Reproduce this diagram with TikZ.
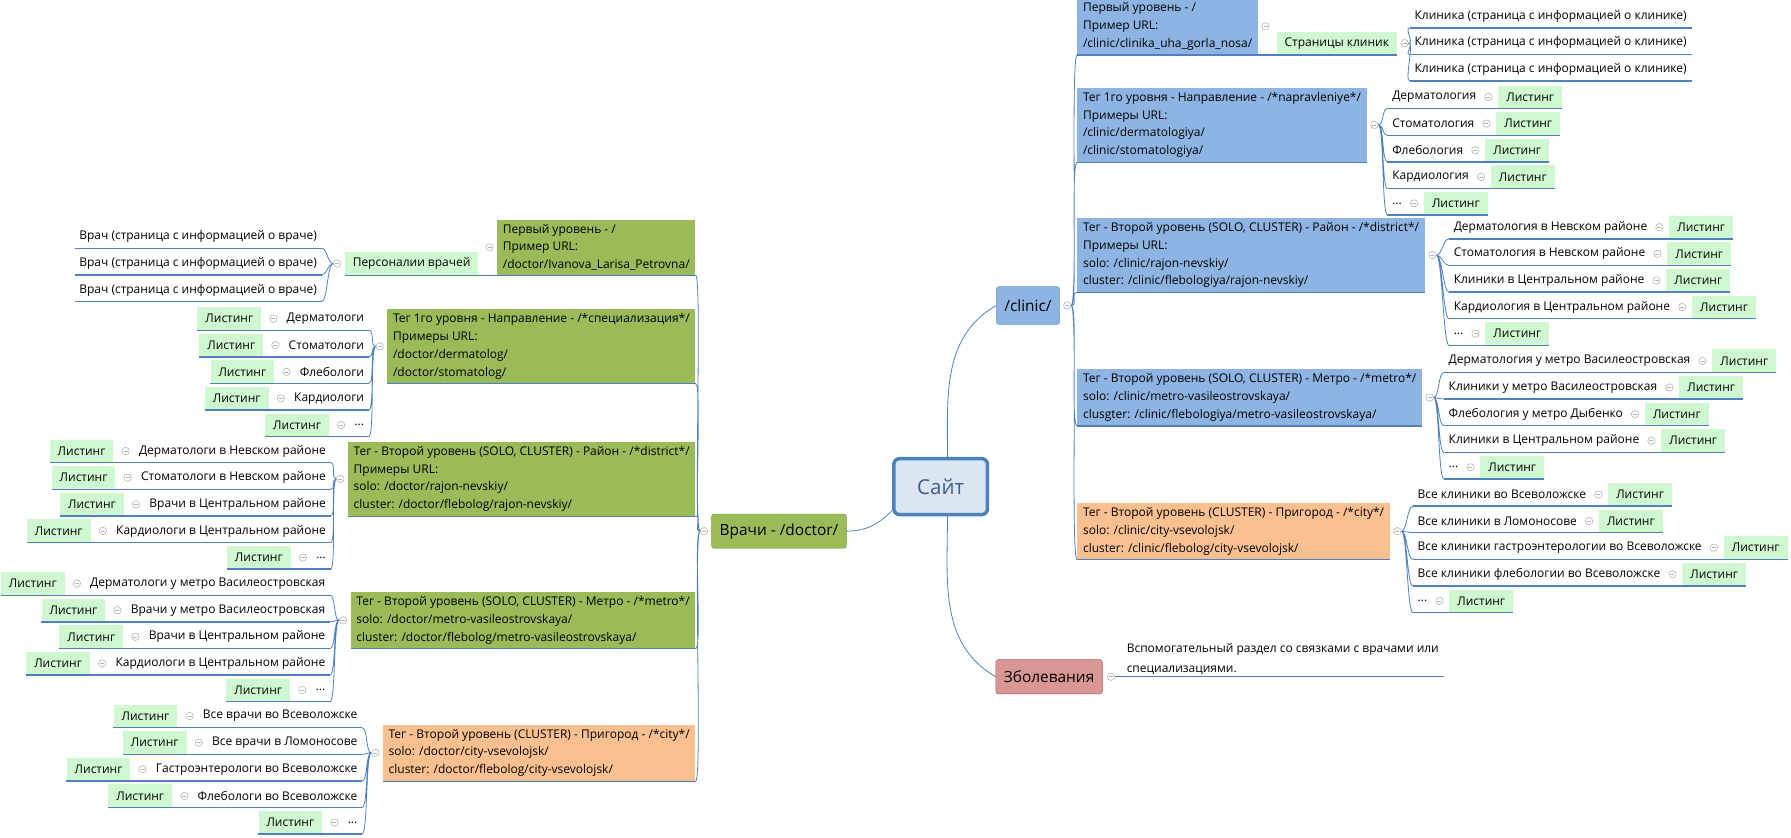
\documentclass[tikz,border=0pt]{standalone}
\usepackage{fontspec}
\setmainfont{Open Sans}
\usetikzlibrary{positioning}

\definecolor{linkblue}{HTML}{4F81BD}
\definecolor{olivefill}{HTML}{9BBB59}
\definecolor{olivedark}{HTML}{7F9C44}
\definecolor{skyfill}{HTML}{8EB4E3}
\definecolor{peachfill}{HTML}{FAC090}
\definecolor{mintfill}{HTML}{D0F8D0}
\definecolor{rosefill}{HTML}{D99694}
\definecolor{rosedark}{HTML}{B65D5A}
\definecolor{sitefill}{HTML}{DCE6F2}
\definecolor{sitetext}{HTML}{3B5E91}

\begin{document}
\begin{tikzpicture}[x=1pt, y=1pt,
	topic/.style={align=left, inner xsep=5pt, inner ysep=4pt, font=\fontsize{10.5}{15.5}\selectfont},
	leftbox/.style={topic, anchor=south east},
	rightbox/.style={topic, anchor=south west},
	item/.style={inner xsep=4pt, inner ysep=0pt, minimum height=20pt, font=\fontsize{10.5}{13}\selectfont},
	listing/.style={item, fill=mintfill, inner xsep=7pt},
	collapse/.style={circle, draw=gray!60, fill=white, line width=0.5pt, inner sep=0pt, minimum size=6.5pt,
		path picture={\draw[gray!60, line width=0.5pt] ([xshift=1.5pt]path picture bounding box.west) -- ([xshift=-1.5pt]path picture bounding box.east);}},
	uline/.style={draw=linkblue, line width=1.2pt},
	conn/.style={draw=linkblue, line width=0.7pt},
	mainbox/.style={rounded corners=2pt, inner xsep=7pt, minimum height=30pt, font=\fontsize{13.5}{16}\selectfont}]

	\useasboundingbox (0,0) rectangle (1568,-733);

	% root and main branches
	\node (site) [draw=linkblue, line width=3pt, fill=sitefill, rounded corners=5pt, minimum width=82pt, minimum height=49pt, text=sitetext, font=\fontsize{18}{22}\selectfont] at (823.5,-426) {Сайт};
	\node (doc) [mainbox, fill=olivefill, draw=olivedark] at (682,-465) {Врачи - /doctor/};
	\node (doc-c) [collapse, left=3pt of doc] {};
	\node (clinic) [mainbox, fill=skyfill, draw=linkblue!80, minimum height=33pt] at (900,-267.5) {/clinic/};
	\node (clinic-c) [collapse, right=3pt of clinic] {};
	\node (ill) [mainbox, fill=rosefill, draw=rosedark] at (918.5,-592.5) {Зболевания};
	\node (ill-c) [collapse, right=4pt of ill] {};
	\node (ill-t) [item, inner ysep=2pt, align=left, anchor=south west, font=\fontsize{10.5}{17}\selectfont] at ([xshift=6pt]ill-c.east) {Вспомогательный раздел со связками с врачами или\\специализациями.};

	\draw [conn] ([xshift=6pt]site.north) to[out=90, in=210] (clinic.west);
	\draw [conn] ([xshift=6pt]site.south) to[out=-90, in=150] (ill.west);
	\draw [conn] ([yshift=5pt]site.south west) to[out=225, in=0] (doc.east);

	% doctor: first level
	\node (d1) [leftbox, fill=olivefill] at (609,-241) {Первый уровень - /\\Пример URL:\\/doctor/Ivanova\_Larisa\_Petrovna/};
	\node (d1-c) [collapse, left=3pt of d1] {};
	\node (pers) [listing, anchor=south east] at ([xshift=-16pt]d1.south west) {Персоналии врачей};
	\node (pers-c) [collapse, left=3pt of pers] {};
	\node (p1) [item, anchor=east] at ([xshift=-20pt, yshift=33.8pt]pers.south west) {Врач (страница с информацией о враче)};
	\node (p2) [item, anchor=east] at ([xshift=-20pt, yshift=10.5pt]pers.south west) {Врач (страница с информацией о враче)};
	\node (p3) [item, anchor=east] at ([xshift=-20pt, yshift=-12.8pt]pers.south west) {Врач (страница с информацией о враче)};

	% doctor: specialisation
	\node (d2) [leftbox, fill=olivefill] at (609,-336) {Тег 1го уровня - Направление - /*специализация*/\\Примеры URL:\\/doctor/dermatolog/\\/doctor/stomatolog/};
	\node (d2-c) [collapse, left=3pt of d2] {};
	\node (d2a) [item, anchor=east] at ([xshift=-16pt, yshift=57.1pt]d2.south west) {Дерматологи};
	\node (d2a-l) [listing, left=18pt of d2a] {Листинг};
	\node (d2a-c) [collapse, left=4pt of d2a] {};
	\node (d2b) [item, anchor=east] at ([xshift=-16pt, yshift=33.8pt]d2.south west) {Стоматологи};
	\node (d2b-l) [listing, left=18pt of d2b] {Листинг};
	\node (d2b-c) [collapse, left=4pt of d2b] {};
	\node (d2c) [item, anchor=east] at ([xshift=-16pt, yshift=10.5pt]d2.south west) {Флебологи};
	\node (d2c-l) [listing, left=18pt of d2c] {Листинг};
	\node (d2c-c) [collapse, left=4pt of d2c] {};
	\node (d2d) [item, anchor=east] at ([xshift=-16pt, yshift=-12.8pt]d2.south west) {Кардиологи};
	\node (d2d-l) [listing, left=18pt of d2d] {Листинг};
	\node (d2d-c) [collapse, left=4pt of d2d] {};
	\node (d2e) [item, anchor=east] at ([xshift=-16pt, yshift=-36.1pt]d2.south west) {...};
	\node (d2e-l) [listing, left=18pt of d2e] {Листинг};
	\node (d2e-c) [collapse, left=4pt of d2e] {};

	% doctor: district
	\node (d3) [leftbox, fill=olivefill] at (609,-452) {Тег - Второй уровень (SOLO, CLUSTER) - Район - /*district*/\\Примеры URL:\\solo: /doctor/rajon-nevskiy/\\cluster: /doctor/flebolog/rajon-nevskiy/};
	\node (d3-c) [collapse, left=3pt of d3] {};
	\node (d3a) [item, anchor=east] at ([xshift=-15pt, yshift=57.1pt]d3.south west) {Дерматологи в Невском районе};
	\node (d3a-l) [listing, left=18pt of d3a] {Листинг};
	\node (d3a-c) [collapse, left=4pt of d3a] {};
	\node (d3b) [item, anchor=east] at ([xshift=-15pt, yshift=33.8pt]d3.south west) {Стоматологи в Невском районе};
	\node (d3b-l) [listing, left=18pt of d3b] {Листинг};
	\node (d3b-c) [collapse, left=4pt of d3b] {};
	\node (d3c) [item, anchor=east] at ([xshift=-15pt, yshift=10.5pt]d3.south west) {Врачи в Центральном районе};
	\node (d3c-l) [listing, left=18pt of d3c] {Листинг};
	\node (d3c-c) [collapse, left=4pt of d3c] {};
	\node (d3d) [item, anchor=east] at ([xshift=-15pt, yshift=-12.8pt]d3.south west) {Кардиологи в Центральном районе};
	\node (d3d-l) [listing, left=18pt of d3d] {Листинг};
	\node (d3d-c) [collapse, left=4pt of d3d] {};
	\node (d3e) [item, anchor=east] at ([xshift=-15pt, yshift=-36.1pt]d3.south west) {...};
	\node (d3e-l) [listing, left=18pt of d3e] {Листинг};
	\node (d3e-c) [collapse, left=4pt of d3e] {};

	% doctor: metro
	\node (d4) [leftbox, fill=olivefill] at (609,-568) {Тег - Второй уровень (SOLO, CLUSTER) - Метро - /*metro*/\\solo: /doctor/metro-vasileostrovskaya/\\cluster: /doctor/flebolog/metro-vasileostrovskaya/};
	\node (d4-c) [collapse, left=3pt of d4] {};
	\node (d4a) [item, anchor=east] at ([xshift=-18pt, yshift=57.1pt]d4.south west) {Дерматологи у метро Василеостровская};
	\node (d4a-l) [listing, left=18pt of d4a] {Листинг};
	\node (d4a-c) [collapse, left=4pt of d4a] {};
	\node (d4b) [item, anchor=east] at ([xshift=-18pt, yshift=33.8pt]d4.south west) {Врачи у метро Василеостровская};
	\node (d4b-l) [listing, left=18pt of d4b] {Листинг};
	\node (d4b-c) [collapse, left=4pt of d4b] {};
	\node (d4c) [item, anchor=east] at ([xshift=-18pt, yshift=10.5pt]d4.south west) {Врачи в Центральном районе};
	\node (d4c-l) [listing, left=18pt of d4c] {Листинг};
	\node (d4c-c) [collapse, left=4pt of d4c] {};
	\node (d4d) [item, anchor=east] at ([xshift=-18pt, yshift=-12.8pt]d4.south west) {Кардиологи в Центральном районе};
	\node (d4d-l) [listing, left=18pt of d4d] {Листинг};
	\node (d4d-c) [collapse, left=4pt of d4d] {};
	\node (d4e) [item, anchor=east] at ([xshift=-18pt, yshift=-36.1pt]d4.south west) {...};
	\node (d4e-l) [listing, left=18pt of d4e] {Листинг};
	\node (d4e-c) [collapse, left=4pt of d4e] {};

	% doctor: city
	\node (d5) [leftbox, fill=peachfill] at (609,-684) {Тег - Второй уровень (CLUSTER) - Пригород - /*city*/\\solo: /doctor/city-vsevolojsk/\\cluster: /doctor/flebolog/city-vsevolojsk/};
	\node (d5-c) [collapse, left=3pt of d5] {};
	\node (d5a) [item, anchor=east] at ([xshift=-18pt, yshift=57.1pt]d5.south west) {Все врачи во Всеволожске};
	\node (d5a-l) [listing, left=18pt of d5a] {Листинг};
	\node (d5a-c) [collapse, left=4pt of d5a] {};
	\node (d5b) [item, anchor=east] at ([xshift=-18pt, yshift=33.8pt]d5.south west) {Все врачи в Ломоносове};
	\node (d5b-l) [listing, left=18pt of d5b] {Листинг};
	\node (d5b-c) [collapse, left=4pt of d5b] {};
	\node (d5c) [item, anchor=east] at ([xshift=-18pt, yshift=10.5pt]d5.south west) {Гастроэнтерологи во Всеволожске};
	\node (d5c-l) [listing, left=18pt of d5c] {Листинг};
	\node (d5c-c) [collapse, left=4pt of d5c] {};
	\node (d5d) [item, anchor=east] at ([xshift=-18pt, yshift=-12.8pt]d5.south west) {Флебологи во Всеволожске};
	\node (d5d-l) [listing, left=18pt of d5d] {Листинг};
	\node (d5d-c) [collapse, left=4pt of d5d] {};
	\node (d5e) [item, anchor=east] at ([xshift=-18pt, yshift=-36.1pt]d5.south west) {...};
	\node (d5e-l) [listing, left=18pt of d5e] {Листинг};
	\node (d5e-c) [collapse, left=4pt of d5e] {};

	% clinic: first level
	\node (r1) [rightbox, fill=skyfill] at (943,-48) {Первый уровень - /\\Пример URL:\\/clinic/clinika\_uha\_gorla\_nosa/};
	\node (r1-c) [collapse, right=3pt of r1] {};
	\node (pages) [listing, anchor=south west] at ([xshift=16pt]r1.south east) {Страницы клиник};
	\node (pages-c) [collapse, right=3pt of pages] {};
	\node (k1) [item, anchor=west] at ([xshift=11pt, yshift=33.8pt]pages.south east) {Клиника (страница с информацией о клинике)};
	\node (k2) [item, anchor=west] at ([xshift=11pt, yshift=10.5pt]pages.south east) {Клиника (страница с информацией о клинике)};
	\node (k3) [item, anchor=west] at ([xshift=11pt, yshift=-12.8pt]pages.south east) {Клиника (страница с информацией о клинике)};

	% clinic: direction
	\node (r2) [rightbox, fill=skyfill] at (943,-142) {Тег 1го уровня - Направление - /*napravleniye*/\\Примеры URL:\\/clinic/dermatologiya/\\/clinic/stomatologiya/};
	\node (r2-c) [collapse, right=3pt of r2] {};
	\node (r2a) [item, anchor=west] at ([xshift=18pt, yshift=57.1pt]r2.south east) {Дерматология};
	\node (r2a-l) [listing, right=15pt of r2a] {Листинг};
	\node (r2a-c) [collapse, right=3pt of r2a] {};
	\node (r2b) [item, anchor=west] at ([xshift=18pt, yshift=33.8pt]r2.south east) {Стоматология};
	\node (r2b-l) [listing, right=15pt of r2b] {Листинг};
	\node (r2b-c) [collapse, right=3pt of r2b] {};
	\node (r2c) [item, anchor=west] at ([xshift=18pt, yshift=10.5pt]r2.south east) {Флебология};
	\node (r2c-l) [listing, right=15pt of r2c] {Листинг};
	\node (r2c-c) [collapse, right=3pt of r2c] {};
	\node (r2d) [item, anchor=west] at ([xshift=18pt, yshift=-12.8pt]r2.south east) {Кардиология};
	\node (r2d-l) [listing, right=15pt of r2d] {Листинг};
	\node (r2d-c) [collapse, right=3pt of r2d] {};
	\node (r2e) [item, anchor=west] at ([xshift=18pt, yshift=-36.1pt]r2.south east) {...};
	\node (r2e-l) [listing, right=15pt of r2e] {Листинг};
	\node (r2e-c) [collapse, right=3pt of r2e] {};

	% clinic: district
	\node (r3) [rightbox, fill=skyfill] at (943,-256) {Тег - Второй уровень (SOLO, CLUSTER) - Район - /*district*/\\Примеры URL:\\solo: /clinic/rajon-nevskiy/\\cluster: /clinic/flebologiya/rajon-nevskiy/};
	\node (r3-c) [collapse, right=3pt of r3] {};
	\node (r3a) [item, anchor=west] at ([xshift=21pt, yshift=57.1pt]r3.south east) {Дерматология в Невском районе};
	\node (r3a-l) [listing, right=15pt of r3a] {Листинг};
	\node (r3a-c) [collapse, right=3pt of r3a] {};
	\node (r3b) [item, anchor=west] at ([xshift=21pt, yshift=33.8pt]r3.south east) {Стоматология в Невском районе};
	\node (r3b-l) [listing, right=15pt of r3b] {Листинг};
	\node (r3b-c) [collapse, right=3pt of r3b] {};
	\node (r3c) [item, anchor=west] at ([xshift=21pt, yshift=10.5pt]r3.south east) {Клиники в Центральном районе};
	\node (r3c-l) [listing, right=15pt of r3c] {Листинг};
	\node (r3c-c) [collapse, right=3pt of r3c] {};
	\node (r3d) [item, anchor=west] at ([xshift=21pt, yshift=-12.8pt]r3.south east) {Кардиология в Центральном районе};
	\node (r3d-l) [listing, right=15pt of r3d] {Листинг};
	\node (r3d-c) [collapse, right=3pt of r3d] {};
	\node (r3e) [item, anchor=west] at ([xshift=21pt, yshift=-36.1pt]r3.south east) {...};
	\node (r3e-l) [listing, right=15pt of r3e] {Листинг};
	\node (r3e-c) [collapse, right=3pt of r3e] {};

	% clinic: metro
	\node (r4) [rightbox, fill=skyfill] at (943,-373) {Тег - Второй уровень (SOLO, CLUSTER) - Метро - /*metro*/\\solo: /clinic/metro-vasileostrovskaya/\\clusgter: /clinic/flebologiya/metro-vasileostrovskaya/};
	\node (r4-c) [collapse, right=3pt of r4] {};
	\node (r4a) [item, anchor=west] at ([xshift=19pt, yshift=57.1pt]r4.south east) {Дерматология у метро Василеостровская};
	\node (r4a-l) [listing, right=15pt of r4a] {Листинг};
	\node (r4a-c) [collapse, right=3pt of r4a] {};
	\node (r4b) [item, anchor=west] at ([xshift=19pt, yshift=33.8pt]r4.south east) {Клиники у метро Василеостровская};
	\node (r4b-l) [listing, right=15pt of r4b] {Листинг};
	\node (r4b-c) [collapse, right=3pt of r4b] {};
	\node (r4c) [item, anchor=west] at ([xshift=19pt, yshift=10.5pt]r4.south east) {Флебология у метро Дыбенко};
	\node (r4c-l) [listing, right=15pt of r4c] {Листинг};
	\node (r4c-c) [collapse, right=3pt of r4c] {};
	\node (r4d) [item, anchor=west] at ([xshift=19pt, yshift=-12.8pt]r4.south east) {Клиники в Центральном районе};
	\node (r4d-l) [listing, right=15pt of r4d] {Листинг};
	\node (r4d-c) [collapse, right=3pt of r4d] {};
	\node (r4e) [item, anchor=west] at ([xshift=19pt, yshift=-36.1pt]r4.south east) {...};
	\node (r4e-l) [listing, right=15pt of r4e] {Листинг};
	\node (r4e-c) [collapse, right=3pt of r4e] {};

	% clinic: city
	\node (r5) [rightbox, fill=peachfill] at (943,-490) {Тег - Второй уровень (CLUSTER) - Пригород - /*city*/\\solo: /clinic/city-vsevolojsk/\\cluster: /clinic/flebolog/city-vsevolojsk/};
	\node (r5-c) [collapse, right=3pt of r5] {};
	\node (r5a) [item, anchor=west] at ([xshift=20pt, yshift=57.1pt]r5.south east) {Все клиники во Всеволожске};
	\node (r5a-l) [listing, right=15pt of r5a] {Листинг};
	\node (r5a-c) [collapse, right=3pt of r5a] {};
	\node (r5b) [item, anchor=west] at ([xshift=20pt, yshift=33.8pt]r5.south east) {Все клиники в Ломоносове};
	\node (r5b-l) [listing, right=15pt of r5b] {Листинг};
	\node (r5b-c) [collapse, right=3pt of r5b] {};
	\node (r5c) [item, anchor=west] at ([xshift=20pt, yshift=10.5pt]r5.south east) {Все клиники гастроэнтерологии во Всеволожске};
	\node (r5c-l) [listing, right=15pt of r5c] {Листинг};
	\node (r5c-c) [collapse, right=3pt of r5c] {};
	\node (r5d) [item, anchor=west] at ([xshift=20pt, yshift=-12.8pt]r5.south east) {Все клиники флебологии во Всеволожске};
	\node (r5d-l) [listing, right=15pt of r5d] {Листинг};
	\node (r5d-c) [collapse, right=3pt of r5d] {};
	\node (r5e) [item, anchor=west] at ([xshift=20pt, yshift=-36.1pt]r5.south east) {...};
	\node (r5e-l) [listing, right=15pt of r5e] {Листинг};
	\node (r5e-c) [collapse, right=3pt of r5e] {};

	% underlines
	\draw [uline] (pers.south west) -- (d1.south east) (d2.south west) -- (d2.south east)
		(d3.south west) -- (d3.south east) (d4.south west) -- (d4.south east) (d5.south west) -- (d5.south east);
	\draw [uline] (r1.south west) -- (pages.south east) (r2.south west) -- (r2.south east)
		(r3.south west) -- (r3.south east) (r4.south west) -- (r4.south east) (r5.south west) -- (r5.south east);
	\draw [uline] (p1.south west) -- (p1.south east) (p2.south west) -- (p2.south east) (p3.south west) -- (p3.south east);
	\draw [uline] (k1.south west) -- (k1.south east) (k2.south west) -- (k2.south east) (k3.south west) -- (k3.south east);
	\draw [uline] (ill-t.south west) -- (ill-t.south east);
	\draw [uline] (d2a-l.south west) -- (d2a.south east) (d2b-l.south west) -- (d2b.south east) (d2c-l.south west) -- (d2c.south east)
		(d2d-l.south west) -- (d2d.south east) (d2e-l.south west) -- (d2e.south east);
	\draw [uline] (d3a-l.south west) -- (d3a.south east) (d3b-l.south west) -- (d3b.south east) (d3c-l.south west) -- (d3c.south east)
		(d3d-l.south west) -- (d3d.south east) (d3e-l.south west) -- (d3e.south east);
	\draw [uline] (d4a-l.south west) -- (d4a.south east) (d4b-l.south west) -- (d4b.south east) (d4c-l.south west) -- (d4c.south east)
		(d4d-l.south west) -- (d4d.south east) (d4e-l.south west) -- (d4e.south east);
	\draw [uline] (d5a-l.south west) -- (d5a.south east) (d5b-l.south west) -- (d5b.south east) (d5c-l.south west) -- (d5c.south east)
		(d5d-l.south west) -- (d5d.south east) (d5e-l.south west) -- (d5e.south east);
	\draw [uline] (r2a.south west) -- (r2a-l.south east) (r2b.south west) -- (r2b-l.south east) (r2c.south west) -- (r2c-l.south east)
		(r2d.south west) -- (r2d-l.south east) (r2e.south west) -- (r2e-l.south east);
	\draw [uline] (r3a.south west) -- (r3a-l.south east) (r3b.south west) -- (r3b-l.south east) (r3c.south west) -- (r3c-l.south east)
		(r3d.south west) -- (r3d-l.south east) (r3e.south west) -- (r3e-l.south east);
	\draw [uline] (r4a.south west) -- (r4a-l.south east) (r4b.south west) -- (r4b-l.south east) (r4c.south west) -- (r4c-l.south east)
		(r4d.south west) -- (r4d-l.south east) (r4e.south west) -- (r4e-l.south east);
	\draw [uline] (r5a.south west) -- (r5a-l.south east) (r5b.south west) -- (r5b-l.south east) (r5c.south west) -- (r5c-l.south east)
		(r5d.south west) -- (r5d-l.south east) (r5e.south west) -- (r5e-l.south east);

	% brackets
	\draw [conn] (doc-c.west) .. controls +(-6,0) and +(6,0) .. (d1.south east)
		(doc-c.west) .. controls +(-6,0) and +(6,0) .. (d2.south east)
		(doc-c.west) .. controls +(-6,0) and +(6,0) .. (d3.south east)
		(doc-c.west) .. controls +(-6,0) and +(6,0) .. (d4.south east)
		(doc-c.west) .. controls +(-6,0) and +(6,0) .. (d5.south east);
	\draw [conn] (clinic-c.east) .. controls +(6,0) and +(-6,0) .. (r1.south west)
		(clinic-c.east) .. controls +(6,0) and +(-6,0) .. (r2.south west)
		(clinic-c.east) .. controls +(6,0) and +(-6,0) .. (r3.south west)
		(clinic-c.east) .. controls +(6,0) and +(-6,0) .. (r4.south west)
		(clinic-c.east) .. controls +(6,0) and +(-6,0) .. (r5.south west);
	\draw [conn] (ill-c.east) -- (ill-t.south west);
	\draw [conn] (pers-c.west) .. controls +(-5,0) and +(5,0) .. (p1.south east)
		(pers-c.west) .. controls +(-5,0) and +(5,0) .. (p2.south east)
		(pers-c.west) .. controls +(-5,0) and +(5,0) .. (p3.south east);
	\draw [conn] (pages-c.east) .. controls +(5,0) and +(-5,0) .. (k1.south west)
		(pages-c.east) .. controls +(5,0) and +(-5,0) .. (k2.south west)
		(pages-c.east) .. controls +(5,0) and +(-5,0) .. (k3.south west);
	\draw [conn] (d2-c.west) .. controls +(-5,0) and +(5,0) .. (d2a.south east) (d2-c.west) .. controls +(-5,0) and +(5,0) .. (d2b.south east)
		(d2-c.west) .. controls +(-5,0) and +(5,0) .. (d2c.south east) (d2-c.west) .. controls +(-5,0) and +(5,0) .. (d2d.south east)
		(d2-c.west) .. controls +(-5,0) and +(5,0) .. (d2e.south east);
	\draw [conn] (d3-c.west) .. controls +(-5,0) and +(5,0) .. (d3a.south east) (d3-c.west) .. controls +(-5,0) and +(5,0) .. (d3b.south east)
		(d3-c.west) .. controls +(-5,0) and +(5,0) .. (d3c.south east) (d3-c.west) .. controls +(-5,0) and +(5,0) .. (d3d.south east)
		(d3-c.west) .. controls +(-5,0) and +(5,0) .. (d3e.south east);
	\draw [conn] (d4-c.west) .. controls +(-5,0) and +(5,0) .. (d4a.south east) (d4-c.west) .. controls +(-5,0) and +(5,0) .. (d4b.south east)
		(d4-c.west) .. controls +(-5,0) and +(5,0) .. (d4c.south east) (d4-c.west) .. controls +(-5,0) and +(5,0) .. (d4d.south east)
		(d4-c.west) .. controls +(-5,0) and +(5,0) .. (d4e.south east);
	\draw [conn] (d5-c.west) .. controls +(-5,0) and +(5,0) .. (d5a.south east) (d5-c.west) .. controls +(-5,0) and +(5,0) .. (d5b.south east)
		(d5-c.west) .. controls +(-5,0) and +(5,0) .. (d5c.south east) (d5-c.west) .. controls +(-5,0) and +(5,0) .. (d5d.south east)
		(d5-c.west) .. controls +(-5,0) and +(5,0) .. (d5e.south east);
	\draw [conn] (r2-c.east) .. controls +(5,0) and +(-5,0) .. (r2a.south west) (r2-c.east) .. controls +(5,0) and +(-5,0) .. (r2b.south west)
		(r2-c.east) .. controls +(5,0) and +(-5,0) .. (r2c.south west) (r2-c.east) .. controls +(5,0) and +(-5,0) .. (r2d.south west)
		(r2-c.east) .. controls +(5,0) and +(-5,0) .. (r2e.south west);
	\draw [conn] (r3-c.east) .. controls +(5,0) and +(-5,0) .. (r3a.south west) (r3-c.east) .. controls +(5,0) and +(-5,0) .. (r3b.south west)
		(r3-c.east) .. controls +(5,0) and +(-5,0) .. (r3c.south west) (r3-c.east) .. controls +(5,0) and +(-5,0) .. (r3d.south west)
		(r3-c.east) .. controls +(5,0) and +(-5,0) .. (r3e.south west);
	\draw [conn] (r4-c.east) .. controls +(5,0) and +(-5,0) .. (r4a.south west) (r4-c.east) .. controls +(5,0) and +(-5,0) .. (r4b.south west)
		(r4-c.east) .. controls +(5,0) and +(-5,0) .. (r4c.south west) (r4-c.east) .. controls +(5,0) and +(-5,0) .. (r4d.south west)
		(r4-c.east) .. controls +(5,0) and +(-5,0) .. (r4e.south west);
	\draw [conn] (r5-c.east) .. controls +(5,0) and +(-5,0) .. (r5a.south west) (r5-c.east) .. controls +(5,0) and +(-5,0) .. (r5b.south west)
		(r5-c.east) .. controls +(5,0) and +(-5,0) .. (r5c.south west) (r5-c.east) .. controls +(5,0) and +(-5,0) .. (r5d.south west)
		(r5-c.east) .. controls +(5,0) and +(-5,0) .. (r5e.south west);
\end{tikzpicture}
\end{document}
